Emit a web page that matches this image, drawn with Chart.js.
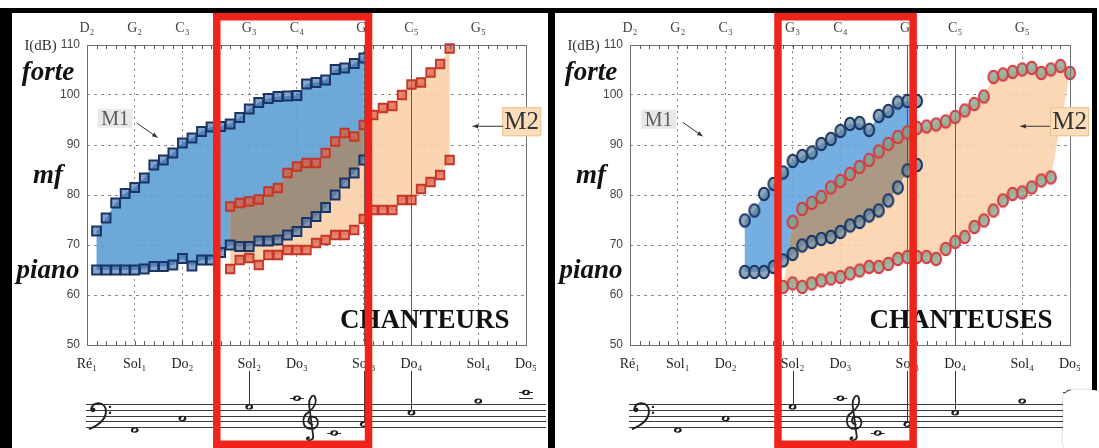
<!DOCTYPE html>
<html>
<head>
<meta charset="utf-8">
<script src="https://cdn.jsdelivr.net/npm/chart.js@4.4.1/dist/chart.umd.min.js"></script>
<style>
  html, body { margin: 0; padding: 0; background: #fff; }
  #frame { position: absolute; left: 0; top: 8px; width: 1097px; height: 440px; background: #000; }
  .panel { position: absolute; top: 13px; height: 435px; background: #fff; }
  .panel canvas { display: block; }
  #pL { left: 12px; width: 536px; }
  #pR { left: 555px; width: 537px; }
  #corner { position: absolute; left: 1063px; top: 390px; width: 40px; height: 62px; background: #fff;
            border-radius: 9px; box-shadow: 0 0 3px rgba(0,0,0,0.25); }
</style>
</head>
<body>
<div id="frame"></div>
<div class="panel" id="pL"><canvas id="cL" width="536" height="435"></canvas></div>
<div class="panel" id="pR"><canvas id="cR" width="537" height="435"></canvas></div>
<div id="corner"></div>
<script>
// ---- pitch axis: MIDI note numbers (D2 = 38 ... C6 = 84), one step per semitone
const NOTE_MIN = 38;
const NOTE_MAX = 84;
const tickNotes    = [38, 43, 48, 55, 60, 67, 72, 79, 84];
const topLabels    = ['D₂', 'G₂', 'C₃', 'G₃', 'C₄', 'G₄', 'C₅', 'G₅', ''];
const bottomLabels = ['Ré₁', 'Sol₁', 'Do₂', 'Sol₂', 'Do₃', 'Sol₃', 'Do₄', 'Sol₄', 'Do₅'];
const dbTicks      = [50, 60, 70, 80, 90, 100, 110];

// ---- CHANTEURS (male singers): upper / lower limits of each mechanism, in dB
const menM1TopFrom = 39;
const menM1Top = [72.8, 75.4, 78.4, 80.3, 81.5, 83.4, 86.0, 87.0, 88.4, 90.4, 91.4, 92.7, 93.6,
                  93.7, 94.2, 95.5, 97.2, 98.5, 99.3, 99.7, 99.8, 99.9, 102.2, 102.5, 103.0,
                  105.1, 105.4, 106.3, 107.4];
const menM1BottomFrom = 39;
const menM1Bottom = [65, 65, 65, 65, 65, 65.2, 65.7, 65.7, 66, 67.3, 65.8, 67, 67,
                     68.5, 70, 69.7, 69.7, 70.8, 70.8, 71, 72, 72.7, 74.5, 75.7, 77.5,
                     80, 82.4, 84.4, 87];
const menM2TopFrom = 53;
const menM2Top = [77.7, 78.4, 78.7, 79.1, 80.7, 81.4, 84.4, 85.7, 86.4, 86.4, 88.4, 90.7,
                  92.4, 91.7, 94, 96, 97.4, 97.8, 100, 102.1, 102.5, 104.5, 106.2, 109.3];
const menM2BottomFrom = 53;
const menM2Bottom = [65.2, 67, 67.4, 66, 68, 68, 69, 69, 69, 70.4, 71, 72, 72, 73,
                     75.2, 77, 77, 77, 79, 79, 81.2, 82.6, 84, 87];

// ---- CHANTEUSES (female singers)
const womenM1TopFrom = 50;
const womenM1Top = [74.9, 76.9, 80.2, 82.2, 84.5, 86.8, 87.8, 88.5, 90.2, 91.2, 92.8, 94.2,
                    94.4, 93.0, 95.8, 96.8, 98.5, 98.8, 98.8];
const womenM1BottomFrom = 50;
const womenM1Bottom = [64.6, 64.6, 64.6, 65.6, 66.9, 68.2, 69.9, 70.6, 71.2, 71.6, 72.6, 73.9,
                       74.6, 75.9, 76.9, 78.9, 81.5, 84.9, 86];
const womenM2TopFrom = 55;
const womenM2Top = [74.6, 77.2, 78.4, 79.6, 81.5, 82.8, 84.2, 85.6, 87, 88.7, 90.2, 91.6, 92.5,
                    93.4, 93.7, 94.1, 94.7, 95.6, 96.9, 98.2, 99.7,
                    103.6, 104.1, 104.6, 105.1, 105.4, 104.4, 105.1, 105.8, 104.4];
const womenM2BottomFrom = 54;
const womenM2Bottom = [61.6, 62.3, 61.6, 62.3, 62.9, 63.3, 63.6, 64.3, 64.9, 65.6, 65.6, 66.2,
                       67.2, 67.6, 67.6, 67.6, 67.2, 69.2, 70.6, 71.6, 73.6, 74.9, 76.9, 78.9,
                       80.2, 80.5, 81.5, 82.9, 83.5];

const SERIF = '"Liberation Serif", "DejaVu Serif", serif';
const SANS = '"Liberation Sans", Arial, sans-serif';

function series(from, values) {
  return values.map((v, i) => ({ x: from + i, y: v }));
}

// upright oval marker used for the female panel
function ovalMarker(fill, stroke) {
  const c = document.createElement('canvas');
  c.width = 14; c.height = 16;
  const g = c.getContext('2d');
  g.beginPath(); g.ellipse(7, 8, 5.0, 6.2, 0, 0, Math.PI * 2);
  g.fillStyle = fill; g.fill();
  g.lineWidth = 2; g.strokeStyle = stroke; g.stroke();
  return c;
}

// ---- small drawing helpers (staff, labels, arrows)
function arrow(ctx, x1, y1, x2, y2) {
  ctx.beginPath(); ctx.moveTo(x1, y1); ctx.lineTo(x2, y2); ctx.stroke();
  const ang = Math.atan2(y2 - y1, x2 - x1), L = 6, W = 0.38;
  ctx.beginPath();
  ctx.moveTo(x2, y2);
  ctx.lineTo(x2 - L * Math.cos(ang - W), y2 - L * Math.sin(ang - W));
  ctx.lineTo(x2 - L * Math.cos(ang + W), y2 - L * Math.sin(ang + W));
  ctx.closePath(); ctx.fill();
}

function labelBox(ctx, txt, cx, cy, w, h, fill, stroke, font, color) {
  ctx.fillStyle = fill;
  ctx.fillRect(cx - w / 2, cy - h / 2, w, h);
  if (stroke) { ctx.strokeStyle = stroke; ctx.lineWidth = 1; ctx.strokeRect(cx - w / 2 + 0.5, cy - h / 2 + 0.5, w - 1, h - 1); }
  ctx.font = font; ctx.fillStyle = color; ctx.textAlign = 'center'; ctx.textBaseline = 'middle';
  ctx.fillText(txt, cx, cy + 1);
}

function bassClef(ctx, cx, T, s) {
  ctx.save();
  ctx.fillStyle = '#222'; ctx.strokeStyle = '#222'; ctx.lineWidth = 2; ctx.lineCap = 'round';
  ctx.beginPath(); ctx.arc(cx + 1, T + s, 2.4, 0, Math.PI * 2); ctx.fill();
  ctx.beginPath();
  ctx.moveTo(cx - 0.8, T + s - 0.5);
  ctx.bezierCurveTo(cx - 0.2, T - 0.5 * s, cx + 2.4 * s, T - 0.6 * s, cx + 2.4 * s, T + 1.3 * s);
  ctx.bezierCurveTo(cx + 2.4 * s, T + 2.7 * s, cx + 1.2 * s, T + 3.6 * s, cx - 0.4 * s, T + 4.3 * s);
  ctx.stroke();
  ctx.beginPath(); ctx.arc(cx + 3.1 * s, T + 0.5 * s, 1.2, 0, Math.PI * 2); ctx.fill();
  ctx.beginPath(); ctx.arc(cx + 3.1 * s, T + 1.5 * s, 1.2, 0, Math.PI * 2); ctx.fill();
  ctx.restore();
}

function trebleClef(ctx, cx, T, s) {
  const P = (a, b) => [cx + a * s, T + b * s];
  ctx.save();
  ctx.strokeStyle = '#222'; ctx.fillStyle = '#222'; ctx.lineWidth = 1.8; ctx.lineCap = 'round';
  ctx.beginPath();
  ctx.moveTo(...P(0.35, 3.5));
  ctx.bezierCurveTo(...P(-0.6, 3.5), ...P(-0.5, 2.2), ...P(0.4, 2.2));
  ctx.bezierCurveTo(...P(1.6, 2.2), ...P(1.7, 4.2), ...P(0.2, 4.3));
  ctx.bezierCurveTo(...P(-1.4, 4.3), ...P(-1.7, 2.3), ...P(-0.3, 1.4));
  ctx.bezierCurveTo(...P(0.6, 0.7), ...P(1.2, -0.3), ...P(0.8, -1.2));
  ctx.bezierCurveTo(...P(0.5, -1.9), ...P(-0.3, -1.0), ...P(-0.2, 0.3));
  ctx.lineTo(...P(0.5, 5.6));
  ctx.bezierCurveTo(...P(0.6, 6.3), ...P(-0.6, 6.5), ...P(-0.6, 5.9));
  ctx.stroke();
  ctx.beginPath(); ctx.arc(...P(-0.35, 5.8), 1.5, 0, Math.PI * 2); ctx.fill();
  ctx.restore();
}

function wholeNote(ctx, cx, cy) {
  ctx.save();
  ctx.fillStyle = '#1a1a1a';
  ctx.beginPath(); ctx.ellipse(cx, cy, 3.9, 2.7, 0, 0, Math.PI * 2); ctx.fill();
  ctx.fillStyle = '#fff';
  ctx.beginPath(); ctx.ellipse(cx, cy, 1.9, 1.3, -0.7, 0, Math.PI * 2); ctx.fill();
  ctx.restore();
}

// staff under the pitch axis: bass clef, then treble clef
function drawStaff(ctx, X, right, T, s) {
  const bottom = T + 4 * s;
  ctx.save();
  ctx.strokeStyle = '#3a3a3a'; ctx.lineWidth = 1;
  const x0 = X(NOTE_MIN) - 1;
  for (let i = 0; i < 5; i++) {
    const yy = Math.round(T + i * s) + 0.5;
    ctx.beginPath(); ctx.moveTo(x0, yy); ctx.lineTo(right, yy); ctx.stroke();
  }
  bassClef(ctx, X(NOTE_MIN) + 5, T, s);
  trebleClef(ctx, X(61.4), T, s);
  // [pitch position, staff step counted from the bottom line]
  const notes = [[43, -1], [48, 3], [55, 7], [60, 10], [63.9, -2], [67, 1], [72, 5], [79, 9], [84, 12]];
  notes.forEach(([n, st]) => {
    const cx = X(n), cy = bottom - st * s / 2;
    ctx.strokeStyle = '#333'; ctx.lineWidth = 1;
    for (let l = 10; l <= st; l += 2) {
      const yy = Math.round(bottom - l * s / 2) + 0.5;
      ctx.beginPath(); ctx.moveTo(cx - 7, yy); ctx.lineTo(cx + 7, yy); ctx.stroke();
    }
    for (let l = -2; l >= st; l -= 2) {
      const yy = Math.round(bottom - l * s / 2) + 0.5;
      ctx.beginPath(); ctx.moveTo(cx - 7, yy); ctx.lineTo(cx + 7, yy); ctx.stroke();
    }
    wholeNote(ctx, cx, cy);
  });
  // leader lines from the note names down to the staff
  ctx.strokeStyle = '#333'; ctx.lineWidth = 1;
  [[55, 7], [67, 1], [72, 5]].forEach(([n, st]) => {
    const px = Math.round(X(n)) + 0.5;
    ctx.beginPath(); ctx.moveTo(px, T - 33); ctx.lineTo(px, bottom - st * s / 2 - 3); ctx.stroke();
  });
  ctx.restore();
}

function phonogramPlugin(spec) {
  const outline = (X, Y, top, topFrom, bot, botFrom) => {
    const p = new Path2D();
    top.forEach((v, i) => { const px = X(topFrom + i), py = Y(v); i ? p.lineTo(px, py) : p.moveTo(px, py); });
    for (let i = bot.length - 1; i >= 0; i--) p.lineTo(X(botFrom + i), Y(bot[i]));
    p.closePath();
    return p;
  };
  return {
    id: 'phonogram',
    beforeDatasetsDraw(chart) {
      const { ctx, chartArea: a, scales: { x, y } } = chart;
      const X = v => x.getPixelForValue(v), Y = v => y.getPixelForValue(v);
      ctx.save();
      ctx.beginPath(); ctx.rect(a.left, a.top, a.right - a.left, a.bottom - a.top); ctx.clip();
      const p1 = outline(X, Y, spec.m1[0], spec.m1[1], spec.m1[2], spec.m1[3]);
      const p2 = outline(X, Y, spec.m2[0], spec.m2[1], spec.m2[2], spec.m2[3]);
      ctx.fillStyle = spec.m1Fill; ctx.fill(p1);
      ctx.fillStyle = spec.m2Fill; ctx.fill(p2);
      ctx.save(); ctx.clip(p1); ctx.fillStyle = spec.overlapFill; ctx.fill(p2); ctx.restore();
      // G4 and C5 reference lines
      ctx.strokeStyle = 'rgba(70,70,70,0.85)'; ctx.lineWidth = 1;
      [67, 72].forEach(n => {
        const px = Math.round(X(n)) + 0.5;
        ctx.beginPath(); ctx.moveTo(px, a.top); ctx.lineTo(px, a.bottom); ctx.stroke();
      });
      ctx.restore();
    },
    afterDraw(chart) {
      const { ctx, chartArea: a, scales: { x, y } } = chart;
      const X = v => x.getPixelForValue(v), Y = v => y.getPixelForValue(v);
      ctx.save();
      // plot frame
      ctx.strokeStyle = '#707070'; ctx.lineWidth = 1;
      ctx.strokeRect(Math.round(a.left) + 0.5, Math.round(a.top) + 0.5,
                     Math.round(a.right - a.left), Math.round(a.bottom - a.top));
      // semitone ticks along top and bottom edges
      ctx.strokeStyle = '#5a5a5a';
      for (let n = NOTE_MIN + 1; n < NOTE_MAX; n++) {
        const px = Math.round(X(n)) + 0.5;
        ctx.beginPath();
        ctx.moveTo(px, a.top); ctx.lineTo(px, a.top + 4);
        ctx.moveTo(px, a.bottom); ctx.lineTo(px, a.bottom - 4);
        ctx.stroke();
      }
      // unit in front of the top tick
      ctx.font = `12px ${SANS}`;
      const w110 = ctx.measureText('110').width;
      ctx.font = `15px ${SERIF}`; ctx.fillStyle = '#333';
      ctx.textAlign = 'right'; ctx.textBaseline = 'middle';
      ctx.fillText('I(dB)', a.left - 7 - w110 - 4, Y(110) + 1);
      // dynamics
      ctx.font = `italic bold 27px ${SERIF}`; ctx.fillStyle = '#111';
      ctx.textAlign = 'center'; ctx.textBaseline = 'alphabetic';
      [['forte', 103], ['mf', 82.5], ['piano', 63.4]].forEach(([t, db]) => ctx.fillText(t, a.left - 39, Y(db)));
      // mechanism labels
      labelBox(ctx, 'M1', X(spec.m1Label[0]), Y(spec.m1Label[1]), 35, 19, '#e8e8e8', null, `20px ${SERIF}`, '#5c5c5c');
      ctx.strokeStyle = '#333'; ctx.fillStyle = '#333'; ctx.lineWidth = 1;
      arrow(ctx, X(spec.m1Arrow[0]), Y(spec.m1Arrow[1]), X(spec.m1Arrow[2]), Y(spec.m1Arrow[3]));
      labelBox(ctx, 'M2', X(spec.m2Label[0]), Y(spec.m2Label[1]), 39, 29, 'rgb(252,221,188)', 'rgb(238,192,145)', `25px ${SERIF}`, '#333');
      ctx.strokeStyle = '#333'; ctx.fillStyle = '#333'; ctx.lineWidth = 1;
      arrow(ctx, X(spec.m2Arrow[0]), Y(spec.m2Arrow[1]), X(spec.m2Arrow[2]), Y(spec.m2Arrow[1]));
      // panel title
      ctx.font = `bold 27px ${SERIF}`; ctx.fillStyle = '#111';
      ctx.textAlign = 'center'; ctx.textBaseline = 'alphabetic';
      ctx.fillText(spec.title, X(spec.titleAt[0]), Y(spec.titleAt[1]));
      // staff
      drawStaff(ctx, X, chart.width - 2, a.bottom + 59, 5.8);
      // highlighted pitch band
      ctx.strokeStyle = 'rgb(238,36,28)'; ctx.lineWidth = 7.5;
      const l = X(spec.band[0]), r = X(spec.band[1]);
      ctx.strokeRect(l, 3.75, r - l, chart.height - 7.5);
      ctx.restore();
    }
  };
}

function makeChart(id, rightPad, spec, styles) {
  const gridCol = c => (c.tick && (c.tick.value === NOTE_MIN || c.tick.value === NOTE_MAX)) ? 'rgba(0,0,0,0)' : 'rgba(115,115,115,0.85)';
  const gridColY = c => (c.tick && (c.tick.value === 50 || c.tick.value === 110)) ? 'rgba(0,0,0,0)' : 'rgba(115,115,115,0.85)';
  const setNoteTicks = s => { s.ticks = tickNotes.map(v => ({ value: v })); };
  const ds = (label, data, st) => Object.assign({ label, data, showLine: false, clip: false }, st);
  return new Chart(document.getElementById(id), {
    type: 'scatter',
    data: {
      datasets: [
        ds('M2 max', series(spec.m2[1], spec.m2[0]), styles.m2),
        ds('M2 min', series(spec.m2[3], spec.m2[2]), styles.m2),
        ds('M1 max', series(spec.m1[1], spec.m1[0]), styles.m1),
        ds('M1 min', series(spec.m1[3], spec.m1[2]), styles.m1)
      ]
    },
    options: {
      responsive: false,
      animation: false,
      events: [],
      layout: { padding: { left: 0, right: rightPad, top: 0, bottom: 0 } },
      plugins: { legend: { display: false }, tooltip: { enabled: false } },
      scales: {
        x: {
          type: 'linear', position: 'bottom', min: NOTE_MIN, max: NOTE_MAX,
          afterBuildTicks: setNoteTicks,
          afterFit: s => { s.height = 103; },
          ticks: { autoSkip: false, maxRotation: 0, padding: 11, color: '#222',
                   font: { family: SERIF, size: 14 },
                   callback: v => bottomLabels[tickNotes.indexOf(v)] },
          grid: { drawTicks: false, lineWidth: 1, color: gridCol },
          border: { display: false, dash: [2, 4] }
        },
        xTop: {
          type: 'linear', position: 'top', min: NOTE_MIN, max: NOTE_MAX,
          afterBuildTicks: setNoteTicks,
          afterFit: s => { s.height = 32; },
          ticks: { autoSkip: false, maxRotation: 0, padding: 8, color: '#444',
                   font: { family: SERIF, size: 14 },
                   callback: v => topLabels[tickNotes.indexOf(v)] },
          grid: { display: false, drawTicks: false },
          border: { display: false }
        },
        y: {
          type: 'linear', min: 50, max: 110,
          afterBuildTicks: s => { s.ticks = dbTicks.map(v => ({ value: v })); },
          afterFit: s => { s.width = 75; },
          ticks: { padding: 7, color: '#444', font: { family: SANS, size: 12 } },
          grid: { drawTicks: false, lineWidth: 1, color: gridColY },
          border: { display: false, dash: [3, 4] }
        }
      }
    },
    plugins: [phonogramPlugin(spec)]
  });
}

makeChart('cL', 17, {
  m1: [menM1Top, menM1TopFrom, menM1Bottom, menM1BottomFrom],
  m2: [menM2Top, menM2TopFrom, menM2Bottom, menM2BottomFrom],
  m1Fill: 'rgba(92,158,212,0.9)', m2Fill: 'rgba(251,208,170,0.9)', overlapFill: 'rgba(154,138,122,0.93)',
  m1Label: [40.95, 95.35], m1Arrow: [43.2, 94.4, 45.4, 91.5],
  m2Label: [83.55, 94.65], m2Arrow: [81.6, 93.75, 78.4],
  title: 'CHANTEURS', titleAt: [73.4, 53.4],
  band: [51.6, 67.5]
}, {
  m1: { pointStyle: 'rect', pointRadius: 6.2, borderWidth: 2, borderColor: 'rgb(26,52,100)', backgroundColor: 'rgba(62,110,172,0.62)' },
  m2: { pointStyle: 'rect', pointRadius: 6.0, borderWidth: 1.8, borderColor: 'rgb(196,55,40)', backgroundColor: 'rgba(222,88,62,0.72)' }
});

makeChart('cR', 19, {
  m1: [womenM1Top, womenM1TopFrom, womenM1Bottom, womenM1BottomFrom],
  m2: [womenM2Top, womenM2TopFrom, womenM2Bottom, womenM2BottomFrom],
  m1Fill: 'rgba(102,166,222,0.9)', m2Fill: 'rgba(251,211,174,0.9)', overlapFill: 'rgba(166,148,128,0.93)',
  m1Label: [41.0, 95.15], m1Arrow: [43.5, 94.55, 45.6, 91.75],
  m2Label: [83.95, 94.65], m2Arrow: [81.9, 93.75, 78.8],
  title: 'CHANTEUSES', titleAt: [72.6, 53.4],
  band: [53.47, 67.6]
}, {
  m1: { pointStyle: ovalMarker('rgba(95,130,155,0.7)', 'rgb(25,52,98)'), pointRadius: 6 },
  m2: { pointStyle: ovalMarker('rgba(125,160,135,0.75)', 'rgb(215,58,68)'), pointRadius: 6 }
});
</script>
</body>
</html>
